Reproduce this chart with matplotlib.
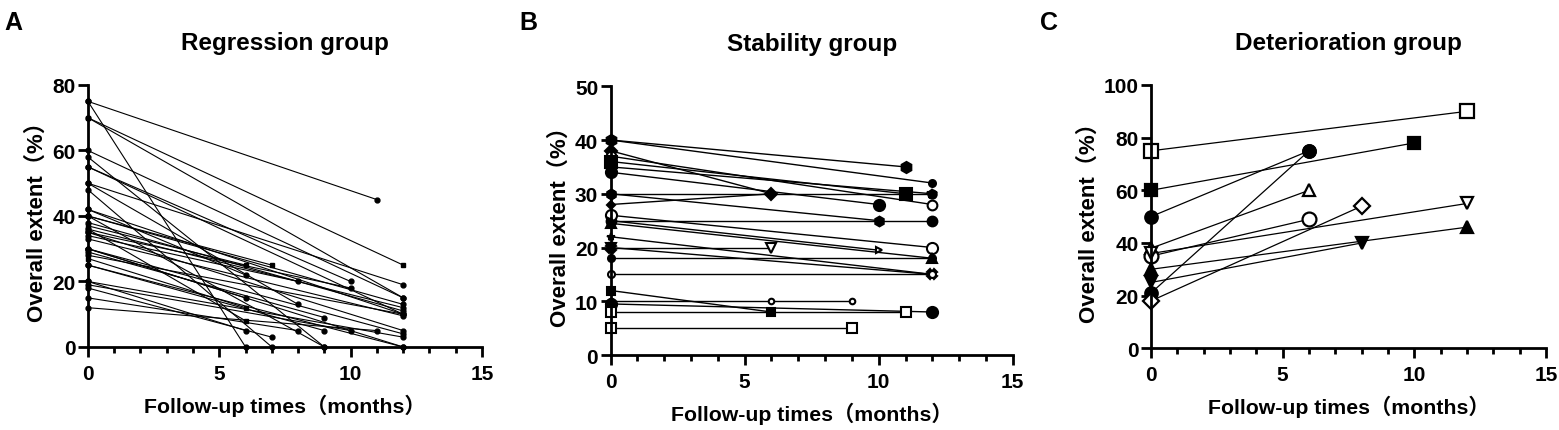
import matplotlib
matplotlib.use("Agg")
import matplotlib.pyplot as plt
from matplotlib.ticker import MultipleLocator

plt.rcParams['font.family'] = ['Liberation Sans', 'Noto Sans CJK SC', 'DejaVu Sans']
plt.rcParams['font.weight'] = 'bold'

# Regression group: baseline value, follow-up month, follow-up value
a_start = [75, 75, 70, 70, 60, 58, 55, 55, 50, 50, 48, 42, 42, 40, 40, 38, 37, 36,
           35, 35, 34, 33, 30, 30, 30, 29, 28, 27, 25, 25, 20, 20, 19, 18, 15, 12, 40, 36]
a_month = [11, 6, 12, 12, 12, 9, 12, 10, 12, 8, 7, 12, 6, 12, 7, 12, 6, 12,
           10, 12, 8, 12, 6, 12, 12, 9, 12, 6, 12, 9, 6, 12, 10, 7, 8, 11, 9, 6]
a_end = [45, 0, 25, 15, 15, 0, 10, 20, 19, 13, 0, 10, 22, 13, 25, 11, 25, 12,
         18, 5, 20, 9.5, 15, 4, 0, 9, 10, 12, 0, 5, 5, 3, 5, 3, 5, 5, 0, 8]
a_square = [2, 14, 16, 27, 37]

# Stability group: months and values for each patient
b_months = [[0, 11], [0, 12], [0, 6], [0, 12], [0, 11], [0, 12], [0, 10], [0, 12],
            [0, 6], [0, 10], [0, 12], [0, 12], [0, 10], [0, 12], [0, 12], [0, 6],
            [0, 12], [0, 12], [0, 12], [0, 6], [0, 6, 9], [0, 12], [0, 11], [0, 9]]
b_values = [[40, 35], [40, 32], [38, 30], [37, 28], [36, 30], [35, 30], [34, 28], [30, 30],
            [28, 30], [30, 25], [25, 25], [26, 20], [25, 19.5], [24.5, 18], [22, 15], [20, 20],
            [20, 15], [18, 18], [15, 15], [12, 8], [10, 10, 10], [9.5, 8], [8, 8], [5, 5]]
b_style = [('h', 'k', 8), ('o', 'k', 5), ('D', 'k', 6), ('o', 'w', 7), ('s', 'k', 8),
           ('*', 'k', 7), ('o', 'k', 8), ('o', 'k', 6), ('D', 'k', 4), ('h', 'k', 7),
           ('o', 'k', 7), ('o', 'w', 8), ('>', 'w', 4), ('^', 'k', 7), ('*', 'k', 6),
           ('v', 'w', 7), ('X', 'k', 7), ('o', 'k', 5), ('o', 'w', 5), ('s', 'k', 6),
           ('o', 'w', 4), ('o', 'k', 8), ('s', 'w', 7), ('s', 'w', 7)]

# Deterioration group
c_months = [[0, 12], [0, 10], [0, 6], [0, 6], [0, 6], [0, 6], [0, 12], [0, 8], [0, 12], [0, 8]]
c_values = [[75, 90], [60, 78], [50, 75], [21, 75], [38, 60], [35, 49], [36, 55], [18, 54],
            [30, 46], [25, 40]]
c_style = [('s', 'w', 10), ('s', 'k', 9), ('o', 'k', 9), ('o', 'k', 9), ('^', 'w', 9),
           ('o', 'w', 10), ('v', 'w', 9), ('D', 'w', 8), ('^', 'k', 8), ('v', 'k', 8)]


def style_axes(ax, ymax, ystep, title):
    ax.set_xlim(0, 15)
    ax.set_ylim(0, ymax)
    ax.xaxis.set_major_locator(MultipleLocator(5))
    ax.xaxis.set_minor_locator(MultipleLocator(1))
    ax.yaxis.set_major_locator(MultipleLocator(ystep))
    for s in ['top', 'right']:
        ax.spines[s].set_visible(False)
    for s in ['left', 'bottom']:
        ax.spines[s].set_linewidth(2)
    ax.tick_params(which='major', length=7, width=2, labelsize=15, direction='out')
    ax.tick_params(axis='x', which='major', pad=5)
    ax.tick_params(axis='y', which='major', pad=2)
    ax.tick_params(which='minor', length=4.5, width=2, direction='out')
    for lab in ax.get_xticklabels() + ax.get_yticklabels():
        lab.set_fontweight('bold')
    ax.set_title(title, fontsize=17.5, fontweight='bold', pad=26)
    ax.set_xlabel('Follow-up times（months）', fontsize=15.3, fontweight='bold', labelpad=8)
    ax.set_ylabel('Overall extent（%）', fontsize=16, fontweight='bold', labelpad=3)


fig = plt.figure(figsize=(15.59, 4.31), dpi=100)
axA = fig.add_axes([0.0564, 0.1926, 0.2528, 0.6079])
axB = fig.add_axes([0.3917, 0.174, 0.2579, 0.6235])
axC = fig.add_axes([0.7383, 0.1896, 0.2534, 0.6109])

for i in range(len(a_start)):
    m = 's' if i in a_square else 'o'
    axA.plot([0, a_month[i]], [a_start[i], a_end[i]], color='k', lw=0.8,
             marker=m, ms=3.5, mfc='k', mec='k', clip_on=False)
style_axes(axA, 80, 20, 'Regression group')

for mo, va, (m, fc, sz) in zip(b_months, b_values, b_style):
    axB.plot(mo, va, color='k', lw=1.0, marker=m, ms=sz, mfc=fc, mec='k',
             mew=1.5, clip_on=False)
style_axes(axB, 50, 10, 'Stability group')

for mo, va, (m, fc, sz) in zip(c_months, c_values, c_style):
    axC.plot(mo, va, color='k', lw=0.9, marker=m, ms=sz, mfc=fc, mec='k',
             mew=1.6, clip_on=False)
style_axes(axC, 100, 20, 'Deterioration group')

fig.text(0.003, 0.975, 'A', fontsize=18, fontweight='bold', va='top')
fig.text(0.333, 0.975, 'B', fontsize=18, fontweight='bold', va='top')
fig.text(0.667, 0.975, 'C', fontsize=18, fontweight='bold', va='top')

fig.savefig('out.png', dpi=100)
